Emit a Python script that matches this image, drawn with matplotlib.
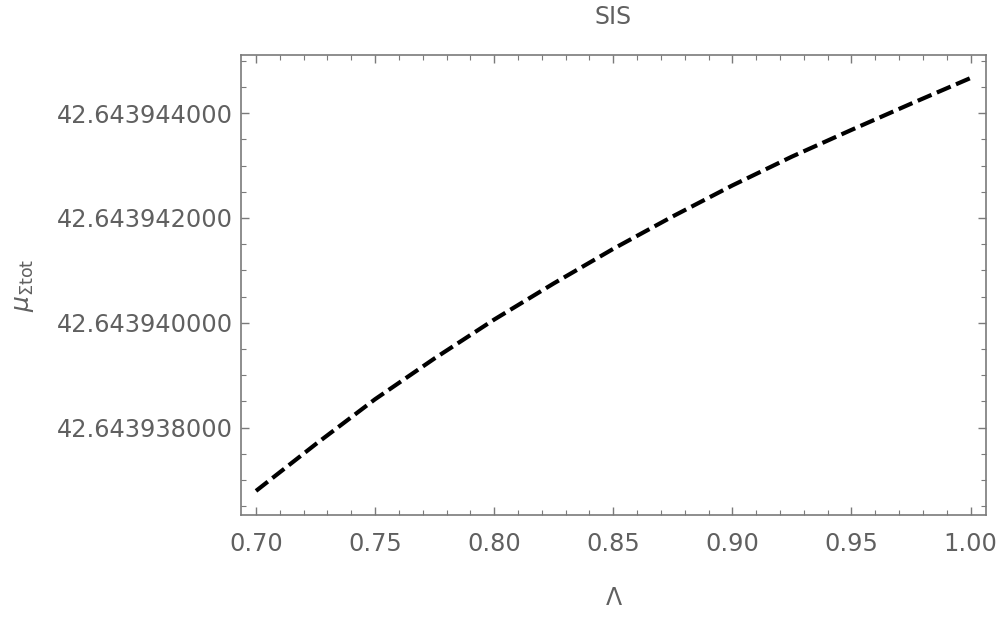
import matplotlib
matplotlib.use("Agg")
import matplotlib.pyplot as plt
from matplotlib.ticker import MultipleLocator, FormatStrFormatter

lam = [0.700, 0.725, 0.750, 0.775, 0.800, 0.825, 0.850, 0.875,
       0.900, 0.925, 0.950, 0.975, 1.000]
mu_tot = [42.64393679, 42.64393768, 42.64393854, 42.64393932, 42.64394006,
          42.64394075, 42.64394141, 42.64394203, 42.64394262, 42.64394317,
          42.64394368, 42.64394418, 42.64394467]

title = "SIS"
xlabel = r"$\Lambda$"
ylabel = r"$\mu_{\Sigma\mathrm{tot}}$"

gray = "#606060"
frame = "#7a7a7a"

plt.rcParams["font.family"] = ["DejaVu Sans"]
plt.rcParams["mathtext.fontset"] = "dejavusans"

fig = plt.figure(figsize=(10, 6.22), dpi=100)
ax = fig.add_axes([0.241, 0.172, 0.745, 0.7396])

ax.plot(lam, mu_tot, color="black", linewidth=3.0, dashes=(3.6, 1.4))

ax.set_xlim(0.6937, 1.0065)
ax.set_ylim(42.64393633, 42.64394511)

ax.xaxis.set_major_locator(MultipleLocator(0.05))
ax.xaxis.set_minor_locator(MultipleLocator(0.01))
ax.xaxis.set_major_formatter(FormatStrFormatter("%.2f"))
ax.yaxis.set_major_locator(MultipleLocator(2e-6))
ax.yaxis.set_minor_locator(MultipleLocator(0.5e-6))
ax.yaxis.set_major_formatter(FormatStrFormatter("%.9f"))

ax.tick_params(which="both", direction="in", top=True, right=True,
               color=frame, labelcolor=gray, labelsize=17.3)
ax.tick_params(which="major", length=6, width=1)
ax.tick_params(which="minor", length=3.6, width=0.8)
ax.tick_params(axis="x", pad=12)
ax.tick_params(axis="y", pad=6)
for s in ax.spines.values():
    s.set_color(frame)
    s.set_linewidth(1.2)

ax.set_title(title, color=gray, fontsize=17, pad=22)
ax.set_xlabel(xlabel, color=gray, fontsize=17, labelpad=22)
ax.set_ylabel(ylabel, color=gray, fontsize=18, labelpad=15)

fig.savefig("out.png", dpi=100)
